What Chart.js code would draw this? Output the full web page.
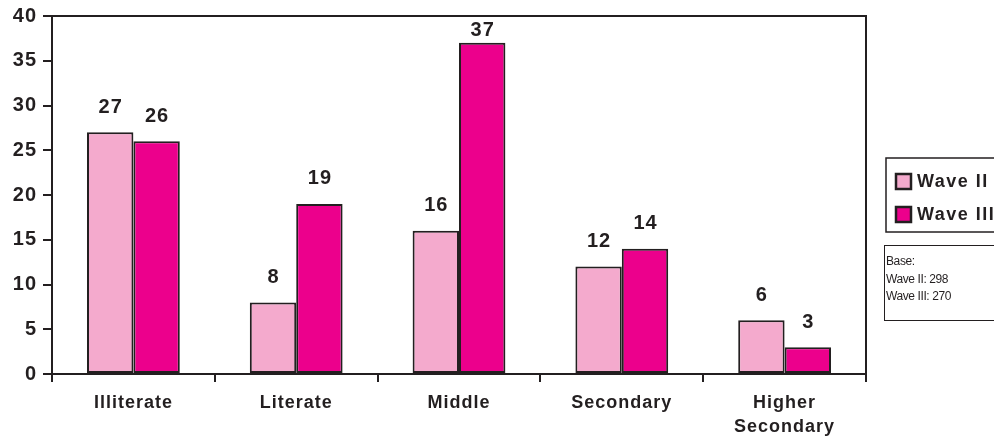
<!DOCTYPE html>
<html>
<head>
<meta charset="utf-8">
<script src="https://cdn.jsdelivr.net/npm/chart.js@4.4.0/dist/chart.umd.min.js"></script>
<style>
  html, body { margin: 0; padding: 0; background: #ffffff; }
  #wrap { width: 994px; height: 444px; position: relative; }
</style>
</head>
<body>
<div id="wrap"><canvas id="c" width="994" height="444"></canvas></div>
<script>
// Education level of respondents, percent by survey wave
const categories = ["Illiterate", "Literate", "Middle", "Secondary", ["Higher", "Secondary"]];
const waveII = [27, 8, 16, 12, 6];
const waveIII = [26, 19, 37, 14, 3];
const seriesNames = ["Wave II", "Wave III"];
const baseLines = ["Base:", "Wave II: 298", "Wave III: 270"];
const yTicks = [0, 5, 10, 15, 20, 25, 30, 35, 40];

const INK = "#231f20";
const FONT = "'Liberation Sans', Arial, sans-serif";

// Slightly open tracking for all chart text
const tracking = {
  id: "tracking",
  beforeLayout(chart) { chart.ctx.letterSpacing = "1px"; },
  beforeDraw(chart) { chart.ctx.letterSpacing = "1px"; }
};

// Value labels drawn above each bar
const valueLabels = {
  id: "valueLabels",
  afterDatasetsDraw(chart) {
    const ctx = chart.ctx;
    ctx.save();
    ctx.fillStyle = INK;
    ctx.font = "bold 20px " + FONT;
    ctx.letterSpacing = "1px";
    ctx.textAlign = "center";
    ctx.textBaseline = "middle";
    chart.data.datasets.forEach((ds, i) => {
      chart.getDatasetMeta(i).data.forEach((bar, j) => {
        const y = Math.max(bar.y - 25, chart.chartArea.top + 14);
        ctx.fillText(String(ds.data[j]), bar.x + 0.5, y);
      });
    });
    ctx.restore();
  }
};

// Top and right edges of the plot frame
const frame = {
  id: "frame",
  afterDraw(chart) {
    const a = chart.chartArea, ctx = chart.ctx;
    ctx.save();
    ctx.strokeStyle = INK;
    ctx.lineWidth = 2;
    ctx.beginPath();
    ctx.moveTo(a.left - 9, a.top);
    ctx.lineTo(a.right, a.top);
    ctx.lineTo(a.right, a.bottom + 8);
    ctx.stroke();
    ctx.restore();
  }
};

// Boxed legend and base-size note on the right
const sideBoxes = {
  id: "sideBoxes",
  afterDraw(chart) {
    const ctx = chart.ctx;
    ctx.save();
    ctx.strokeStyle = INK;
    ctx.lineWidth = 1.5;
    ctx.strokeRect(886, 158, 120, 74);
    ctx.font = "bold 18px " + FONT;
    ctx.letterSpacing = "1.5px";
    ctx.textBaseline = "middle";
    ctx.textAlign = "left";
    chart.data.datasets.forEach((ds, i) => {
      const y = 181 + i * 33;
      ctx.fillStyle = ds.backgroundColor;
      ctx.fillRect(896, y - 7, 15, 15);
      ctx.lineWidth = 2.5;
      ctx.strokeRect(896, y - 7, 15, 15);
      ctx.fillStyle = INK;
      ctx.fillText(ds.label, 917, y + 1);
    });
    ctx.lineWidth = 1;
    ctx.strokeRect(884.5, 245.5, 120, 75);
    ctx.font = "12px " + FONT;
    ctx.letterSpacing = "-0.4px";
    ctx.fillStyle = INK;
    baseLines.forEach((t, i) => ctx.fillText(t, 886, 262 + i * 17.5));
    ctx.restore();
  }
};

new Chart(document.getElementById("c"), {
  type: "bar",
  data: {
    labels: categories,
    datasets: [
      { label: seriesNames[0], data: waveII, backgroundColor: "#f4aacd", borderColor: INK, borderWidth: 2, borderSkipped: false },
      { label: seriesNames[1], data: waveIII, backgroundColor: "#ec008c", borderColor: INK, borderWidth: 2, borderSkipped: false }
    ]
  },
  options: {
    responsive: false,
    animation: false,
    devicePixelRatio: 1,
    layout: { padding: { top: 16, right: 128, left: 0, bottom: 0 } },
    plugins: { legend: { display: false }, tooltip: { enabled: false } },
    datasets: { bar: { barPercentage: 1, categoryPercentage: 0.57 } },
    scales: {
      x: {
        grid: { offset: true, drawOnChartArea: false, color: INK, lineWidth: 2, tickLength: 8 },
        border: { color: INK, width: 2 },
        ticks: { color: INK, font: { family: FONT, size: 18, weight: "bold", lineHeight: 1.35 }, padding: 9, maxRotation: 0, autoSkip: false },
        afterFit(s) { s.height = 70; s.paddingLeft = 0; s.paddingRight = 0; }
      },
      y: {
        min: 0, max: 40,
        afterBuildTicks(s) { s.ticks = yTicks.map(v => ({ value: v })); },
        grid: { drawOnChartArea: false, color: INK, lineWidth: 2, tickLength: 9 },
        border: { color: INK, width: 2 },
        ticks: { color: INK, font: { family: FONT, size: 20, weight: "bold" }, padding: 6 },
        afterFit(s) { s.width = 52; s.paddingTop = 0; s.paddingBottom = 0; }
      }
    }
  },
  plugins: [tracking, valueLabels, frame, sideBoxes]
});
</script>
</body>
</html>
